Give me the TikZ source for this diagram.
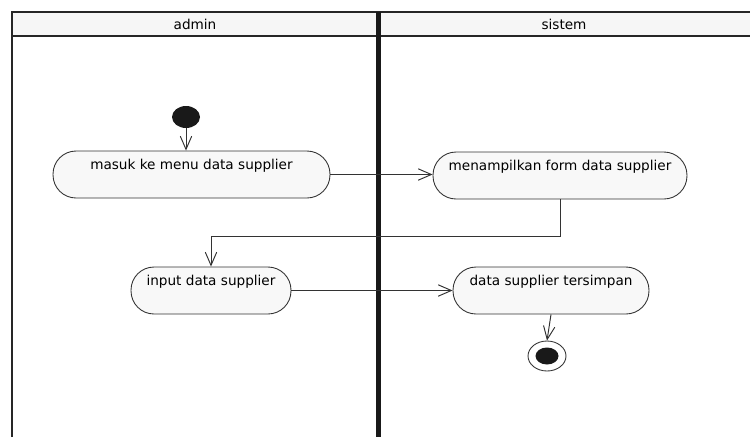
\documentclass[tikz,border=0pt]{standalone}
\usepackage{fontspec}
\setmainfont{DejaVu Sans}
\usetikzlibrary{arrows.meta,shapes.geometric}
\definecolor{lanefill}{HTML}{F6F6F6}
\definecolor{actfill}{HTML}{F8F8F8}
\definecolor{edge}{HTML}{333333}
\begin{document}
\begin{tikzpicture}[x=0.02cm,y=-0.02cm,
  font=\fontsize{7.75}{9}\selectfont,
  action/.style={draw=edge,line width=0.5pt,fill=actfill,rectangle,
    rounded corners=0.46cm,inner xsep=4pt,inner ysep=0pt,
    text height=0.36cm,text depth=0.58cm,minimum height=0.94cm},
  flow/.style={draw=edge,line width=0.55pt,-{Straight Barb[length=7.5pt,width=6.5pt]}},
  lane/.style={line width=1.5pt,draw=black!85}]

  % Fix the size of the picture
  \useasboundingbox (0,0) rectangle (750,437);

  % Draw the swimlanes
  \fill[lanefill] (12,12) rectangle (750,36);
  \draw[lane] (12,437) -- (12,12) -- (750,12);
  \draw[lane] (12,36) -- (750,36);
  \draw[line width=0.1cm,black!90] (378.5,12) -- (378.5,437);

  % Lane titles
  \node (admin) at (195,24) {admin};
  \node (sistem) at (564,24) {sistem};

  % Start and end points
  \node[ellipse,fill=black!90,minimum width=0.56cm,minimum height=0.44cm,inner sep=0pt] (start) at (186,117) {};
  \node[ellipse,draw=edge,line width=0.5pt,fill=white,minimum width=0.76cm,minimum height=0.6cm,inner sep=0pt] (end) at (547,356) {};
  \node[ellipse,fill=black!90,minimum width=0.46cm,minimum height=0.34cm,inner sep=0pt] (enddot) at (end) {};

  % The actions
  \node[action,minimum width=5.54cm] (masuk) at (191.5,174.5) {masuk ke menu data supplier};
  \node[action,minimum width=5.08cm] (tampil) at (560,175.5) {menampilkan form data supplier};
  \node[action,minimum width=3.2cm] (input) at (211,290.5) {input data supplier};
  \node[action,minimum width=3.92cm] (simpan) at (551,290.5) {data supplier tersimpan};

  % Draw the flows
  \draw[flow] (start) -- (start |- masuk.north);
  \draw[flow] (masuk.east) -- (masuk.east -| tampil.west);
  \draw[flow] (tampil.south) -- ++(0,37) -| (input.north);
  \draw[flow] (input.east) -- (simpan.west);
  \draw[flow] (simpan.south) -- (end.north);

\end{tikzpicture}
\end{document}
